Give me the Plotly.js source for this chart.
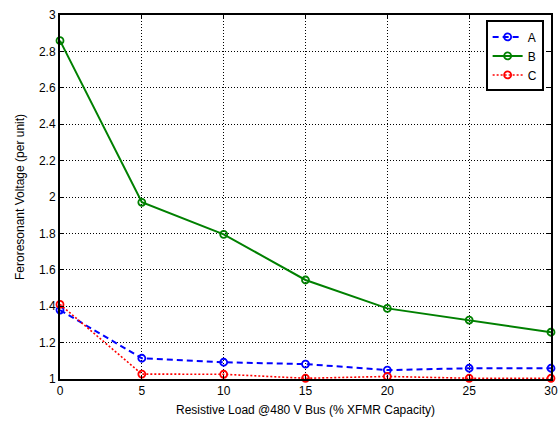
<!DOCTYPE html>
<html>
<head>
<meta charset="utf-8">
<script src="https://cdn.plot.ly/plotly-3.0.1.min.js"></script>
<style>html,body{margin:0;padding:0;background:#fff;}#chart{width:559px;height:423px;}</style>
</head>
<body>
<div id="chart"></div>
<script>
var loads = [0, 5, 10, 15, 20, 25, 30];
var seriesA = [1.379, 1.114, 1.092, 1.082, 1.049, 1.059, 1.059];
var seriesB = [2.859, 1.971, 1.795, 1.544, 1.388, 1.324, 1.257];
var seriesC = [1.41, 1.027, 1.026, 1.004, 1.014, 1.004, 1.004];
var xTicks = [0, 5, 10, 15, 20, 25, 30];
var yTicks = [1, 1.2, 1.4, 1.6, 1.8, 2, 2.2, 2.4, 2.6, 2.8, 3];

var FONT = 'Liberation Sans, Arial, sans-serif';
function tr(name, y, color, dash, w) {
  return {
    x: loads, y: y, name: name, type: 'scatter', mode: 'lines+markers',
    line: {color: color, dash: dash, width: w},
    marker: {symbol: 'circle-open', size: 7, color: color, line: {width: 1.8, color: color}},
    cliponaxis: false
  };
}
var data = [
  tr('A', seriesA, '#0000ff', '6px,4px', 2),
  tr('B', seriesB, '#008000', 'solid', 2),
  tr('C', seriesC, '#ff0000', '2px,2px', 1.6)
];
var axisCommon = {
  showline: true, linecolor: '#000', linewidth: 2, mirror: 'ticks',
  ticks: 'inside', ticklen: 4, tickcolor: '#000', tickwidth: 1,
  showgrid: true, gridcolor: '#000', griddash: '1px,2px', gridwidth: 1,
  zeroline: false, tickfont: {family: FONT, size: 12, color: '#000'}
};
var layout = {
  width: 559, height: 423,
  margin: {l: 60, r: 8, t: 15, b: 44},
  paper_bgcolor: '#fff', plot_bgcolor: '#fff',
  showlegend: true,
  legend: {
    x: 0.985, y: 0.985, xanchor: 'right', yanchor: 'top',
    bgcolor: '#fff', bordercolor: '#000', borderwidth: 2,
    font: {family: FONT, size: 12, color: '#000'},
    itemwidth: 30, tracegroupgap: 0
  },
  xaxis: Object.assign({}, axisCommon, {
    range: [0, 30], tickvals: xTicks, ticktext: xTicks.map(String),
    title: {text: 'Resistive Load @480 V Bus (% XFMR Capacity)', font: {family: FONT, size: 12, color: '#000'}, standoff: 8}
  }),
  yaxis: Object.assign({}, axisCommon, {
    range: [1, 3], tickvals: yTicks, ticktext: yTicks.map(function(v){return String(v);}),
    title: {text: 'Feroresonant Voltage (per unit)', font: {family: FONT, size: 12, color: '#000'}, standoff: 12}
  })
};
Plotly.newPlot('chart', data, layout, {displayModeBar: false, staticPlot: true});
</script>
</body>
</html>
